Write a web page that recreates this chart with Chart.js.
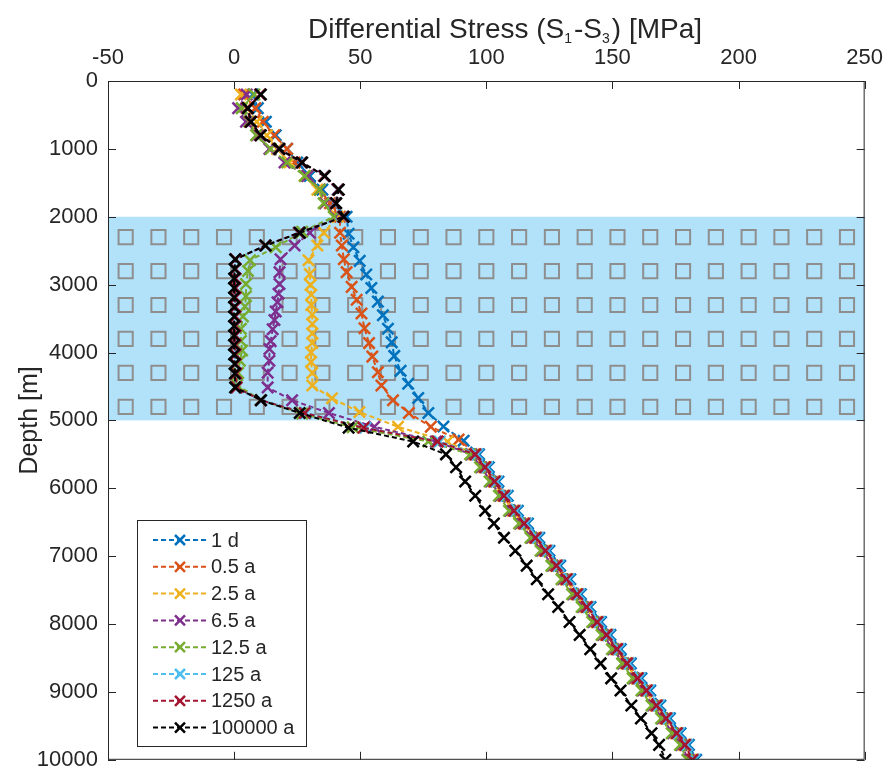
<!DOCTYPE html>
<html>
<head>
<meta charset="utf-8">
<script src="https://cdn.jsdelivr.net/npm/chart.js@4.4.1/dist/chart.umd.min.js"></script>
<style>
  html, body { margin: 0; padding: 0; background: #fff; }
  canvas { display: block; }
</style>
</head>
<body>
<canvas id="stressChart" width="893" height="783"></canvas>
<script>
// depth [m] and differential stress [MPa], one pair per time step
const lowerDepth = [5500, 5690, 5900, 6110, 6330, 6520, 6730, 6920, 7140, 7340, 7560, 7750,
    7970, 8160, 8370, 8580, 8800, 8980, 9200, 9390, 9610, 9780, 10000];

const depthD1 = [200, 400, 600, 800, 1000, 1200, 1400, 1600, 1800, 2000, 2250, 2450, 2650, 2850,
    3050, 3250, 3450, 3650, 3850, 4050, 4270, 4460, 4670, 4890, 5090, 5300, ...lowerDepth];
const stressD1 = [7.5, 9.4, 12.6, 16.5, 21, 25, 30, 35, 39, 44.6, 45.4, 47.3, 49.8, 52.4,
    54.4, 57, 59, 61, 62.5, 63.5, 66, 69, 73, 77, 83, 91,
    97.1, 101, 104.8, 108.5, 112.5, 116.5, 121, 125, 129.3, 133.3, 137.5, 141.3,
    145.5, 149.2, 153.3, 157.3, 161.5, 165, 169, 172.8, 177, 180.3, 183.2];

const depthA0p5 = [200, 400, 600, 800, 1000, 1200, 1400, 1600, 1800, 2000, 2235, 2424, 2627, 2816,
    3033, 3222, 3425, 3643, 3861, 4060, 4290, 4485, 4702, 4891, 5094, 5283, ...lowerDepth];
const stressA0p5 = [4, 8.4, 11.4, 15.9, 21, 24, 29, 34, 38, 42, 42, 42.7, 43.5, 44.6,
    46.6, 48.6, 50.5, 51.7, 53.5, 54.8, 57, 58.4, 63, 69.3, 78, 89,
    96.1, 100, 103.8, 107.5, 111.5, 115.5, 120, 124, 128.3, 132.3, 136.5, 140.3,
    144.5, 148.2, 152.3, 156.3, 160.5, 164, 168, 171.8, 176, 179.3, 182.2];

const depthA2p5 = [200, 400, 600, 800, 1000, 1200, 1400, 1600, 1800, 2000, 2235, 2424, 2641, 2845,
    3004, 3150, 3300, 3440, 3580, 3720, 3860, 4000, 4140, 4300, 4485, 4673, 4877, 5094, 5312, ...lowerDepth];
const stressA2p5 = [2.7, 5, 9, 13, 17, 22, 28, 33, 36, 41, 35.6, 33, 29.5, 30,
    30.3, 30.6, 30.6, 31, 31, 31, 31, 30.5, 30.5, 31, 31, 38.8, 49.7, 65, 84.6,
    95.1, 99, 102.8, 106.5, 110.5, 114.5, 119, 123, 127.3, 131.3, 135.5, 139.3,
    143.5, 147.2, 151.3, 155.3, 159.5, 163, 167, 170.8, 175, 178.3, 181.2];

const depthA6p5 = [200, 400, 600, 800, 1000, 1200, 1400, 1600, 1800, 2000, 2235, 2424, 2627, 2816,
    2990, 3135, 3260, 3396, 3520, 3657, 3832, 3948, 4122, 4296, 4514, 4702, 4891, 5094, 5310, ...lowerDepth];
const stressA6p5 = [5, 1.6, 4.7, 9, 14, 20, 29, 34, 36, 40, 30, 24, 18.4, 18,
    18, 17.6, 17.2, 16.5, 16, 15.3, 14.5, 14, 14, 13.3, 13.3, 23, 37.6, 55.6, 80,
    94.1, 98, 101.8, 105.5, 109.5, 113.5, 118, 122, 126.3, 130.3, 134.5, 138.3,
    142.5, 146.2, 150.3, 154.3, 158.5, 162, 166, 169.8, 174, 177.3, 180.2];

const depthA12p5 = [200, 400, 600, 800, 1000, 1200, 1400, 1600, 1800, 2000, 2220, 2450, 2640, 2800,
    2990, 3170, 3320, 3470, 3650, 3830, 3970, 4120, 4300, 4480, 4700, 4900, 5100, 5310, ...lowerDepth];
const stressA12p5 = [8, 3, 6, 8.7, 14.5, 21, 28, 34, 35.5, 39.5, 27, 16.5, 6.3, 5.5,
    4.7, 4.7, 4.3, 3.5, 2.7, 2.7, 3.2, 2.3, 1.6, 1.2, 10.6, 27, 47, 77,
    93.6, 97.5, 101.3, 105, 109, 113, 117.5, 121.5, 125.8, 129.8, 134, 137.8,
    142, 145.7, 149.8, 153.8, 158, 161.5, 165.5, 169.3, 173.5, 176.8, 179.7];

const depthLong = [200, 400, 600, 800, 1000, 1200, 1400, 1600, 1800, 2000, 2235, 2424, 2627, 2770,
    2910, 3050, 3190, 3330, 3470, 3610, 3750, 3890, 4030, 4170, 4310, 4514, 4702, 4891, 5109, 5312, ...lowerDepth];
const stressA125 = [10.4, 5.3, 6.5, 10.3, 17.6, 26.6, 35.6, 41, 40, 43, 25.6, 12.2, 0.5, 0.4,
    0.4, 0.4, 0.4, 0.4, 0.4, 0.4, 0.4, 0.4, 0.4, 0.4, 0.5, 0.8, 10.8, 28.5, 52, 81.5,
    96.4, 100.3, 104.1, 107.8, 111.8, 115.8, 120.3, 124.3, 128.6, 132.6, 136.8, 140.6,
    144.8, 148.5, 152.6, 156.6, 160.8, 164.3, 168.3, 172.1, 176.3, 179.6, 182.5];
const stressA1250 = [10.3, 5.2, 6.4, 10.3, 17.7, 26.7, 35.7, 41.2, 40.2, 43.2, 25.7, 12.3, 0.6, 0.5,
    0.5, 0.5, 0.5, 0.5, 0.5, 0.5, 0.5, 0.5, 0.5, 0.6, 0.8, 1, 10.6, 28, 51.3, 80.7,
    95.6, 99.5, 103.3, 107, 111, 115, 119.5, 123.5, 127.8, 131.8, 136, 139.8,
    144, 147.7, 151.8, 155.8, 160, 163.5, 167.5, 171.3, 175.5, 178.8, 181.7];
const stressA100000 = [10.6, 5.5, 6.7, 10.6, 18, 27, 36, 41.5, 40.5, 43.5, 26, 12.5, 0.4, 0.2,
    0, 0, 0, 0, 0, 0, 0, 0, 0, 0.2, 0.3, 0.4, 10.6, 26, 45.4, 71,
    84, 88, 91.6, 95.6, 99.5, 103, 107, 111.5, 116, 120, 124.5, 128.5,
    133, 137, 141.2, 145.3, 149.5, 153.2, 157.5, 161.3, 165.5, 168.5, 171];

const seriesLabels = ['1 d', '0.5 a', '2.5 a', '6.5 a', '12.5 a', '125 a', '1250 a', '100000 a'];
const seriesColors = ['#0072BD', '#D95319', '#EDB120', '#7E2F8E', '#77AC30', '#4DBEEE', '#A2142F', '#000000'];
const seriesDepths = [depthD1, depthA0p5, depthA2p5, depthA6p5, depthA12p5, depthLong, depthLong, depthLong];
const seriesStress = [stressD1, stressA0p5, stressA2p5, stressA6p5, stressA12p5, stressA125, stressA1250, stressA100000];

// reservoir layer and its square pattern
const reservoirTop = 2000;
const reservoirBase = 5000;
const hatchStress = [-43, -30, -17, -4, 9, 22, 35, 48, 61, 74, 87, 100, 113, 126, 139, 152,
    165, 178, 191, 204, 217, 230, 243];
const hatchDepth = [2300, 2800, 3300, 3800, 4300, 4800];

const xTicks = [-50, 0, 50, 100, 150, 200, 250];
const yTicks = [0, 1000, 2000, 3000, 4000, 5000, 6000, 7000, 8000, 9000, 10000];

const FONT = '"Liberation Sans", Arial, sans-serif';
const INK = '#262626';

const hatchPoints = [];
hatchDepth.forEach(d => hatchStress.forEach(s => hatchPoints.push({x: s, y: d})));

const datasets = seriesLabels.map((label, i) => ({
    label: label,
    data: seriesDepths[i].map((d, k) => ({x: seriesStress[i][k], y: d})),
    showLine: true,
    borderColor: seriesColors[i],
    backgroundColor: seriesColors[i],
    borderWidth: 2,
    borderDash: [5, 3],
    pointStyle: 'crossRot',
    pointRadius: 8,
    pointBorderWidth: 2.5,
    pointBorderColor: seriesColors[i],
    order: 7 - i
}));

datasets.push({
    label: 'hatch',
    data: hatchPoints,
    showLine: false,
    pointStyle: 'rect',
    pointRadius: 10,
    pointBorderWidth: 2,
    pointBorderColor: '#8e8e8e',
    pointBackgroundColor: 'rgba(0,0,0,0)',
    order: 100
});

const layerPlugin = {
    id: 'layer',
    beforeDatasetsDraw(chart) {
        const {ctx, chartArea, scales} = chart;
        const top = scales.y.getPixelForValue(reservoirTop);
        const bottom = scales.y.getPixelForValue(reservoirBase);
        ctx.save();
        ctx.fillStyle = '#B1E2FA';
        ctx.fillRect(chartArea.left, top, chartArea.right - chartArea.left, bottom - top);
        ctx.restore();
    }
};

const framePlugin = {
    id: 'frame',
    afterDraw(chart) {
        const {ctx, chartArea: a, scales} = chart;
        ctx.save();
        ctx.strokeStyle = INK;
        ctx.lineWidth = 1;
        ctx.strokeRect(a.left + 0.5, a.top + 0.5, a.right - a.left - 1, a.bottom - a.top - 1);
        ctx.beginPath();
        xTicks.forEach(v => {
            const px = Math.round(scales.x.getPixelForValue(v)) + 0.5;
            ctx.moveTo(px, a.top); ctx.lineTo(px, a.top + 8);
            ctx.moveTo(px, a.bottom); ctx.lineTo(px, a.bottom - 8);
        });
        yTicks.forEach(v => {
            const py = Math.round(scales.y.getPixelForValue(v)) + 0.5;
            ctx.moveTo(a.left, py); ctx.lineTo(a.left + 8, py);
            ctx.moveTo(a.right, py); ctx.lineTo(a.right - 8, py);
        });
        ctx.stroke();

        // axis titles
        ctx.fillStyle = INK;
        ctx.textBaseline = 'alphabetic';
        const main = '28px ' + FONT;
        const sub = '14px ' + FONT;
        const parts = [['Differential Stress (S', main, 0], ['1', sub, 5], ['-S', main, 0], ['3', sub, 5], [') [MPa]', main, 0]];
        let x = 308;
        parts.forEach(p => {
            ctx.font = p[1];
            ctx.fillText(p[0], x, 38 + p[2]);
            x += ctx.measureText(p[0]).width + (p[1] === sub ? 2 : 0);
        });

        ctx.save();
        ctx.translate(37, (a.top + a.bottom) / 2);
        ctx.rotate(-Math.PI / 2);
        ctx.font = '25px ' + FONT;
        ctx.textAlign = 'center';
        ctx.fillText('Depth [m]', 0, 0);
        ctx.restore();

        // legend
        const bx = 137, by = 520, bw = 169, bh = 226;
        ctx.fillStyle = '#fff';
        ctx.fillRect(bx, by, bw, bh);
        ctx.strokeStyle = INK;
        ctx.strokeRect(bx + 0.5, by + 0.5, bw, bh);
        ctx.font = '20px ' + FONT;
        ctx.textBaseline = 'middle';
        ctx.textAlign = 'left';
        chart.data.datasets.slice(0, seriesLabels.length).forEach((ds, i) => {
            const y = 540 + i * 26.8;
            ctx.strokeStyle = ds.borderColor;
            ctx.lineWidth = 2;
            ctx.setLineDash([5, 3]);
            ctx.beginPath();
            ctx.moveTo(153, y); ctx.lineTo(207, y);
            ctx.stroke();
            ctx.setLineDash([]);
            ctx.lineWidth = 2.5;
            ctx.beginPath();
            ctx.moveTo(175, y - 5); ctx.lineTo(185, y + 5);
            ctx.moveTo(175, y + 5); ctx.lineTo(185, y - 5);
            ctx.stroke();
            ctx.fillStyle = INK;
            ctx.fillText(ds.label, 211, y + 1);
        });
        ctx.restore();
    }
};

new Chart(document.getElementById('stressChart'), {
    type: 'scatter',
    data: {datasets: datasets},
    options: {
        responsive: false,
        animation: false,
        layout: {padding: {left: 0, top: 0, right: 19, bottom: 13}},
        plugins: {
            legend: {display: false},
            tooltip: {enabled: false},
            title: {display: false}
        },
        scales: {
            x: {
                type: 'linear',
                position: 'top',
                min: -50,
                max: 250,
                afterBuildTicks: s => { s.ticks = xTicks.map(v => ({value: v})); },
                afterFit: s => { s.height = 81; },
                grid: {display: false, drawTicks: false},
                border: {display: false},
                ticks: {
                    padding: 10,
                    color: INK,
                    font: {family: FONT, size: 22},
                    callback: v => String(v)
                }
            },
            y: {
                type: 'linear',
                reverse: true,
                min: 0,
                max: 10000,
                afterBuildTicks: s => { s.ticks = yTicks.map(v => ({value: v})); },
                afterFit: s => { s.width = 108; },
                grid: {display: false, drawTicks: false},
                border: {display: false},
                ticks: {
                    padding: 10,
                    color: INK,
                    font: {family: FONT, size: 22},
                    callback: v => String(v)
                }
            }
        }
    },
    plugins: [layerPlugin, framePlugin]
});
</script>
</body>
</html>
